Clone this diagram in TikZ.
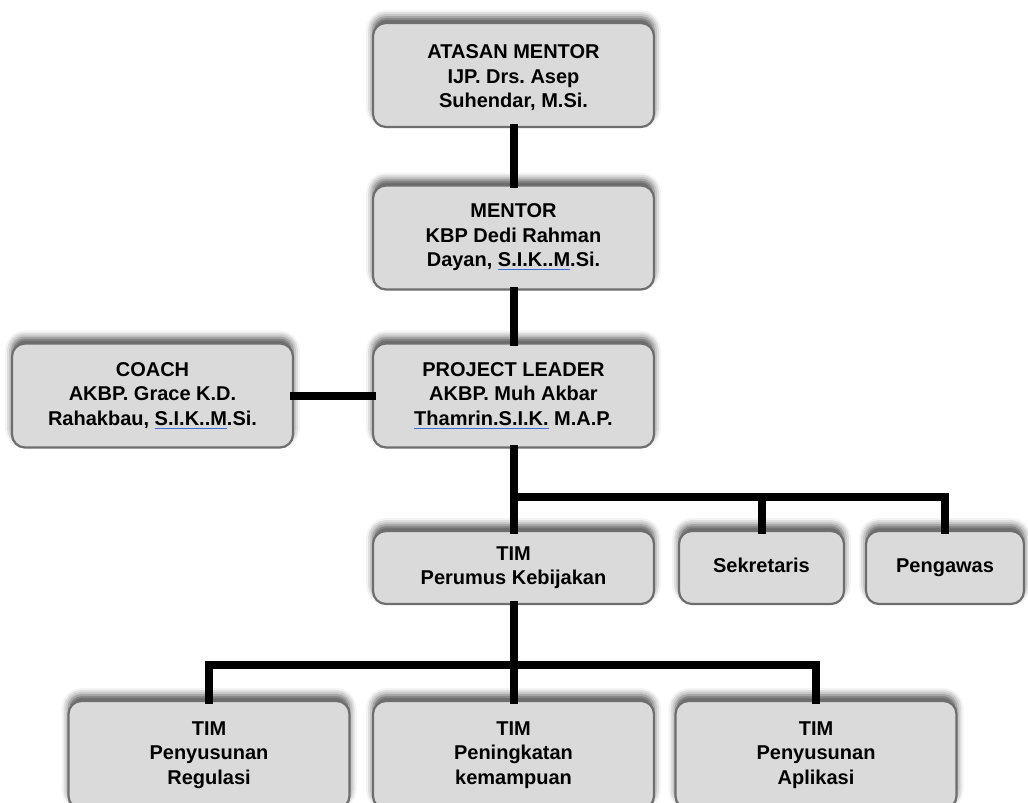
\documentclass[tikz,border=0pt]{standalone}
\usepackage{fontspec}
\setmainfont{Liberation Sans}
\usetikzlibrary{shadows.blur}
\definecolor{cajagris}{HTML}{DADADA}
\definecolor{bordegris}{HTML}{6E6E6E}
\definecolor{subrayado}{HTML}{3A6FD8}
\frenchspacing
\newcommand\spell[1]{\setbox0\hbox{#1}\rlap{\textcolor{subrayado}{\rule[-3pt]{\wd0}{0.9pt}}}\box0}
\tikzset{
  caja/.style={draw=bordegris, line width=2.2pt, fill=cajagris, rounded corners=13pt,
    align=center, font=\bfseries\fontsize{20}{24.5}\selectfont,
    blur shadow={shadow xshift=0pt, shadow yshift=6pt, shadow blur radius=7pt, shadow opacity=70},
    minimum width=281pt, minimum height=104pt, inner sep=0pt},
  enlace/.style={line width=8pt, black, line cap=rect}
}
\begin{document}
\begin{tikzpicture}[x=1pt, y=-1pt]
        \useasboundingbox (0,0) rectangle (1028,803);
        \clip (0,0) rectangle (1028,803);
        % Cajas superiores
        \node[caja] (atasan) at (513.5,75) {\rule{0pt}{20pt}ATASAN MENTOR\\IJP. Drs. Asep\\Suhendar, M.Si.};
        \node[caja] (mentor) at (513.5,237.5) {MENTOR\\KBP Dedi Rahman\\Dayan, \spell{S.I.K..M}.Si.};
        \node[caja] (leader) at (513.5,395.5) {PROJECT LEADER\\AKBP. Muh Akbar\\\spell{Thamrin.S.I.K.}\ M.A.P.};
        \node[caja] (coach) at (152.5,395.5) {COACH\\AKBP. Grace K.D.\\Rahakbau, \spell{S.I.K..M}.Si.};
        % Fila media
        \coordinate (busA) at (513.5,497);
        \node[caja, minimum height=73pt] (perumus) at (513.5,567.5) {TIM\\Perumus Kebijakan};
        \node[caja, minimum height=73pt, minimum width=165pt] (sekretaris) at (761.5,567.5) {\strut Sekretaris};
        \node[caja, minimum height=73pt, minimum width=158pt] (pengawas) at (945,567.5) {\strut Pengawas};
        % Fila inferior
        \coordinate (busB) at (513.5,665);
        \foreach \x/\nombre/\texto in {209/regulasi/{Penyusunan\\Regulasi},
            513.5/kemampuan/{Peningkatan\\kemampuan}, 816/aplikasi/{Penyusunan\\Aplikasi}}
        \node[caja, minimum height=108pt] (\nombre) at (\x,755) {TIM\\\texto};
        % Enlaces
        \draw[enlace] (atasan) -- (mentor);
        \draw[enlace] (mentor) -- (leader);
        \draw[enlace] (coach) -- (leader);
        \draw[enlace] (leader) -- (perumus);
        \draw[enlace] (busA) -- (busA -| pengawas) -- (pengawas);
        \draw[enlace] (busA -| sekretaris) -- (sekretaris);
        \draw[enlace] (perumus) -- (kemampuan);
        \draw[enlace] (regulasi) -- (busB -| regulasi) -- (busB -| aplikasi) -- (aplikasi);
    \end{tikzpicture}
\end{document}
